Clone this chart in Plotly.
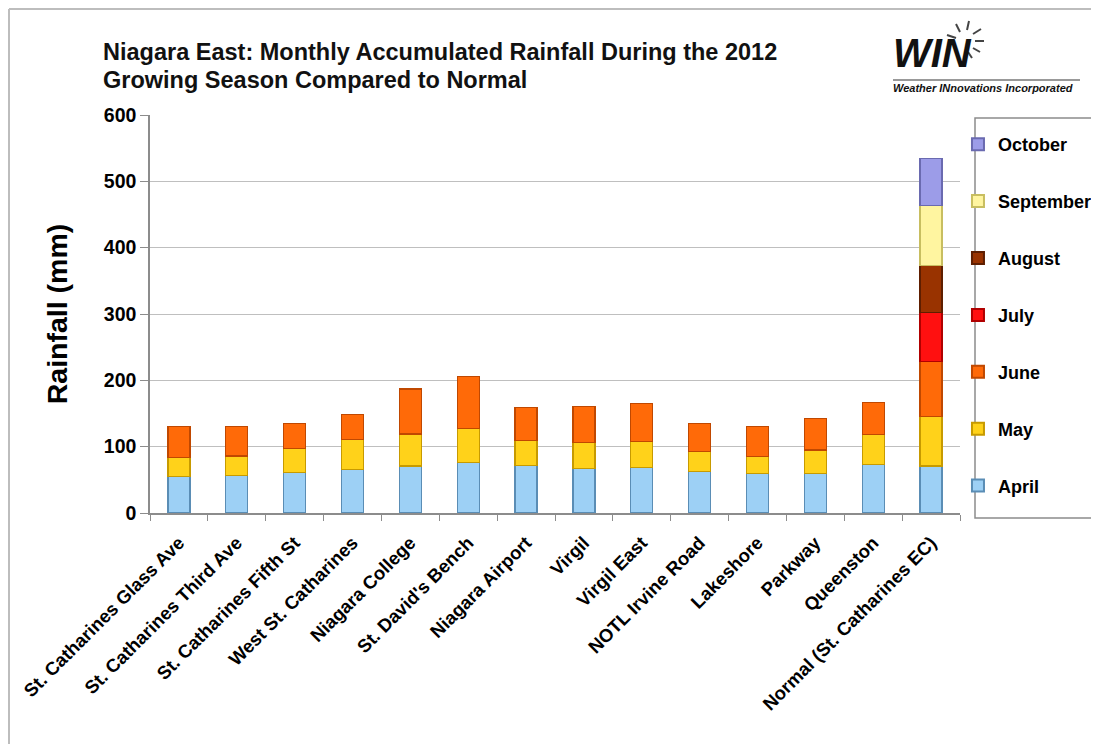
import plotly.graph_objects as go

stations = ["St. Catharines Glass Ave", "St. Catharines Third Ave", "St. Catharines Fifth St",
            "West St. Catharines", "Niagara College", "St. David's Bench", "Niagara Airport",
            "Virgil", "Virgil East", "NOTL Irvine Road", "Lakeshore", "Parkway", "Queenston",
            "Normal (St. Catharines EC)"]

april = [55, 57, 61, 65, 71, 76, 72, 67, 69, 62, 60, 60, 73, 71]
may = [29, 29, 36, 46, 48, 51, 37, 39, 39, 31, 25, 35, 45, 75]
june = [47, 45, 38, 37, 68, 79, 50, 54, 57, 42, 46, 47, 49, 82]
july = [None] * 13 + [74]
august = [None] * 13 + [71]
september = [None] * 13 + [90]
october = [None] * 13 + [71]

months = ["April", "May", "June", "July", "August", "September", "October"]
series = [april, may, june, july, august, september, october]
colors = ["#9DD0F5", "#FFD21A", "#FF6A08", "#FF1010", "#993300", "#FFF5A0", "#9C9CE8"]
edges = ["#5A8DB5", "#C79A00", "#C04800", "#B00000", "#5E1E00", "#C8BE60", "#6A6AB0"]

font = "Liberation Sans, Arial, sans-serif"

# the figure sits 8px from the page's top-left corner (body margin)
OFF = 8
W, H = 1099 - OFF, 744 - OFF
PL, PR, PT, PB = 150, 960, 115, 513  # plot area in page pixels
PW, PH = PR - PL, PB - PT


def px(x):
    return (x - PL) / PW


def py(y):
    return (PB - y) / PH


fig = go.Figure()
for i, (name, vals, c, e) in enumerate(zip(months, series, colors, edges)):
    fig.add_trace(go.Bar(
        x=stations, y=vals, name=name, legendgroup=name,
        legendrank=100 - i,
        marker=dict(color=c, line=dict(color=e, width=1.2)),
        width=0.38,
    ))

fig.update_layout(
    barmode="stack",
    width=W, height=H,
    margin=dict(l=PL - OFF, r=W - (PR - OFF), t=PT - OFF, b=H - (PB - OFF), autoexpand=False),
    paper_bgcolor="white", plot_bgcolor="white",
    font=dict(family=font, color="black"),
    showlegend=True,
    legend=dict(
        traceorder="grouped", tracegroupgap=30.5,
        x=0.9975, xanchor="left", y=py(126), yanchor="top",
        bgcolor="rgba(0,0,0,0)", borderwidth=0,
        font=dict(size=18, family=font, color="black", weight="bold"),
        itemsizing="constant",
    ),
)

# two-line chart title
fig.add_annotation(text="<b>Niagara East: Monthly Accumulated Rainfall During the 2012</b>",
                   xref="paper", yref="paper", x=px(101), y=py(52), xanchor="left", yanchor="middle",
                   showarrow=False, font=dict(size=23.5, family=font, color="#111"))
fig.add_annotation(text="<b>Growing Season Compared to Normal</b>",
                   xref="paper", yref="paper", x=px(101), y=py(80), xanchor="left", yanchor="middle",
                   showarrow=False, font=dict(size=23.5, family=font, color="#111"))

fig.update_yaxes(
    range=[0, 600], dtick=100,
    showgrid=True, gridcolor="#BFBFBF", gridwidth=1,
    showline=True, linecolor="#8C8C8C", linewidth=1.5,
    ticks="outside", ticklen=8, tickcolor="#8C8C8C",
    tickfont=dict(size=19.5, family=font, color="black", weight="bold"),
    title=dict(text="<b>Rainfall (mm)</b>", font=dict(size=28.5, family=font, color="black"), standoff=28),
    zeroline=False,
)
fig.update_xaxes(
    showline=True, linecolor="#8C8C8C", linewidth=1.5,
    ticks="outside", ticklen=6, tickcolor="#8C8C8C", tickson="boundaries",
    tickangle=-45, ticklabelstandoff=10,
    tickfont=dict(size=18.5, family=font, color="black", weight="bold"),
)

# legend box and page frame
fig.add_shape(type="rect", xref="paper", yref="paper",
              x0=px(975), x1=px(1096), y0=py(518), y1=py(118),
              line=dict(color="#8C8C8C", width=1.5), fillcolor="rgba(0,0,0,0)")
fig.add_shape(type="line", xref="paper", yref="paper",
              x0=px(9), x1=px(1099), y0=py(9), y1=py(9),
              line=dict(color="#BDBDBD", width=2))
fig.add_shape(type="line", xref="paper", yref="paper",
              x0=px(9), x1=px(9), y0=py(9), y1=py(744),
              line=dict(color="#BDBDBD", width=2))

# WIN logo
fig.add_annotation(text="<b><i>WIN</i></b>", xref="paper", yref="paper",
                   x=px(891), y=py(77), xanchor="left", yanchor="bottom",
                   showarrow=False, font=dict(size=40, family=font, color="#111"))
fig.add_annotation(text="<b><i>Weather INnovations Incorporated</i></b>", xref="paper", yref="paper",
                   x=px(891), y=py(96), xanchor="left", yanchor="bottom",
                   showarrow=False, font=dict(size=11, family=font, color="#111"))
fig.add_shape(type="line", xref="paper", yref="paper",
              x0=px(893), x1=px(1080), y0=py(80), y1=py(80),
              line=dict(color="#777", width=1.5))
rays = [((956, 38), (947, 35)), ((960, 32), (956, 24)), ((967, 30), (969, 21)),
        ((973, 34), (981, 29)), ((975, 41), (984, 41)), ((973, 48), (980, 52)),
        ((968, 52), (972, 58))]
for (ax, ay), (bx, by) in rays:
    fig.add_shape(type="line", xref="paper", yref="paper",
                  x0=px(ax), x1=px(bx), y0=py(ay), y1=py(by),
                  line=dict(color="#444", width=2))

fig.write_html("out.html")
